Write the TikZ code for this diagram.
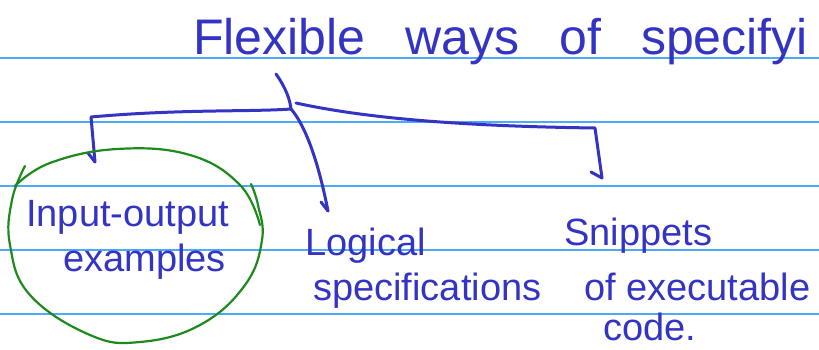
\documentclass[tikz,border=0pt]{standalone}
\usepackage{fontspec}
\setmainfont{Liberation Sans}
\definecolor{ink}{HTML}{3434C4}
\definecolor{rulecol}{HTML}{4DA8FF}
\definecolor{loopcol}{HTML}{1E8A1E}
\begin{document}
\begin{tikzpicture}[x=1pt,y=-1pt,
  txt/.style={anchor=base west,inner sep=0pt,text=ink,font=\fontsize{38}{38}\selectfont},
  pen/.style={draw=ink,line width=3pt,line cap=round,line join=round},
  ruled/.style={draw=rulecol,line width=1.5pt},
  circ/.style={draw=loopcol,line width=2.2pt,line cap=round}]
\useasboundingbox (0,0) rectangle (819,350);
\fill[white] (0,0) rectangle (819,350);
\foreach \y in {58,122,186,250,314} \draw[ruled] (0,\y) -- (819,\y);
% texts
\node[txt,font=\fontsize{50}{50}\selectfont] (title) at (193,55) {Flexible\hspace{40pt}ways\hspace{40pt}of\hspace{40pt}specifyi};
\node[txt] (io1) at (26,226) {Input-output};
\node[txt] (io2) at (63,271) {examples};
\node[txt] (lg1) at (305,255) {Logical};
\node[txt] (lg2) at (313,300) {specifications};
\node[txt] (sn1) at (564,245) {Snippets};
\node[txt] (sn2) at (584,300) {of executable};
\node[txt] (sn3) at (603,340) {code.};
% connector points
\coordinate (top) at (276,74);
\coordinate (j) at (291,109);
\coordinate (jr) at (296,103);
\coordinate (lc) at (91,117);
\coordinate (la) at (95,162);
\coordinate (ma) at (328,211);
\coordinate (rc) at (595,128);
\coordinate (ra) at (602,178);
% brace and branches
\draw[pen] (top) .. controls (286,88) and (290,100) .. (j);
\draw[pen] (j) .. controls (250,112) and (180,109) .. (lc) -- (la);
\draw[pen] (88,153) -- (la);
\draw[pen] (j) .. controls (305,125) and (318,160) .. (ma);
\draw[pen] (321,202) -- (ma);
\draw[pen] (jr) .. controls (360,117) and (450,126) .. (rc) -- (ra);
\draw[pen] (591,172) -- (ra);
% green loop around first item
\draw[circ] plot[smooth,tension=0.7] coordinates {(25,166) (12,200) (10,245) (30,295) (90,335) (140,342) (200,325) (245,285) (262,240) (258,205) (251,184)};
\draw[circ] plot[smooth,tension=0.7] coordinates {(15,186) (50,163) (117,149) (190,155) (240,185) (260,225)};
\end{tikzpicture}
\end{document}
